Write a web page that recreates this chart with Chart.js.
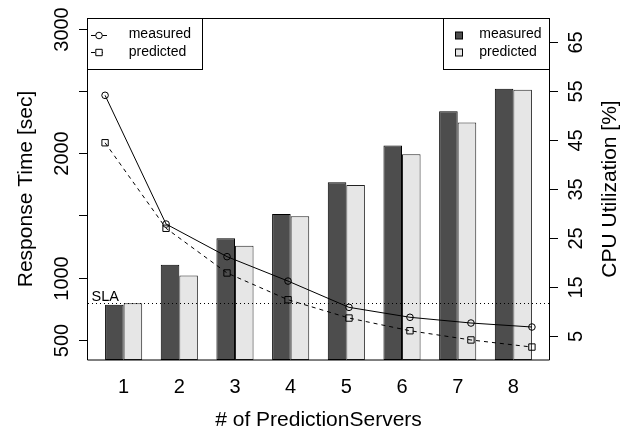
<!DOCTYPE html>
<html>
<head>
<meta charset="utf-8">
<script src="https://cdn.jsdelivr.net/npm/chart.js@4.4.1/dist/chart.umd.min.js"></script>
<style>
  html, body { margin: 0; padding: 0; background: #fff; }
  canvas { display: block; }
</style>
</head>
<body>
<canvas id="chart" width="626" height="432"></canvas>
<script>
// values
const servers = [1, 2, 3, 4, 5, 6, 7, 8];
const timeMeasured = [2465, 1431, 1169, 973, 762, 682, 636, 604];
const timePredicted = [2084, 1397, 1038, 823, 676, 574, 500, 443];
const cpuMeasured = [11.3, 19.5, 24.9, 29.9, 36.4, 43.9, 50.9, 55.5];
const cpuPredicted = [11.6, 17.3, 23.4, 29.4, 35.8, 42.1, 48.6, 55.3];
const timeTicks = [500, 1000, 1500, 2000, 2500, 3000];
const timeTickLabels = ['500', '1000', '', '2000', '', '3000'];
const cpuTicks = [5, 15, 25, 35, 45, 55, 65];
const slaTime = 800;

const FONT = '"Liberation Sans", Arial, sans-serif';
const DARK = '#4d4d4d';
const LIGHT = '#e6e6e6';

const toXY = (ys) => servers.map((x, i) => ({ x: x, y: ys[i] }));
const setTicks = (vals) => (scale) => { scale.ticks = vals.map(v => ({ value: v })); };

function rotText(ctx, text, x, y) {
    ctx.save();
    ctx.translate(x, y);
    ctx.rotate(-Math.PI / 2);
    ctx.fillText(text, 0, 0);
    ctx.restore();
}

// SLA line, drawn over the bars
const slaLine = {
    id: 'slaLine',
    afterDatasetsDraw(chart) {
        const { ctx, chartArea: a, scales } = chart;
        const y = Math.round(scales.yTime.getPixelForValue(slaTime)) + 0.5;
        ctx.save();
        ctx.strokeStyle = '#000';
        ctx.lineWidth = 1;
        ctx.setLineDash([1, 3]);
        ctx.beginPath();
        ctx.moveTo(a.left, y);
        ctx.lineTo(a.right, y);
        ctx.stroke();
        ctx.setLineDash([]);
        ctx.fillStyle = '#000';
        ctx.font = '14.5px ' + FONT;
        ctx.textAlign = 'left';
        ctx.textBaseline = 'alphabetic';
        ctx.fillText('SLA', a.left + 3.5, y - 3);
        ctx.restore();
    }
};

// R style box, axes, titles and the two legends
const rAxes = {
    id: 'rAxes',
    afterDraw(chart) {
        const { ctx, chartArea: a, scales } = chart;
        const L = a.left - 0.5, R = a.right + 0.5, T = a.top + 0.5, B = a.bottom;
        const midY = (a.top + a.bottom) / 2;
        ctx.save();
        ctx.strokeStyle = '#000';
        ctx.fillStyle = '#000';
        ctx.lineWidth = 1;

        ctx.beginPath();
        ctx.moveTo(L, T); ctx.lineTo(R, T); ctx.lineTo(R, B); ctx.lineTo(L, B); ctx.closePath();
        ctx.stroke();

        // left axis
        ctx.font = '20px ' + FONT;
        ctx.textAlign = 'center';
        ctx.textBaseline = 'alphabetic';
        scales.yTime.ticks.forEach((t, i) => {
            const y = Math.round(scales.yTime.getPixelForValue(t.value)) + 0.5;
            ctx.beginPath(); ctx.moveTo(L - 8.5, y); ctx.lineTo(L, y); ctx.stroke();
            if (timeTickLabels[i]) rotText(ctx, timeTickLabels[i], 67.5, y);
        });
        // right axis
        scales.yCpu.ticks.forEach(t => {
            const y = Math.round(scales.yCpu.getPixelForValue(t.value)) + 0.5;
            ctx.beginPath(); ctx.moveTo(R, y); ctx.lineTo(R + 8.5, y); ctx.stroke();
            rotText(ctx, String(t.value), 581.5, y);
        });
        // x labels
        scales.xBar.ticks.forEach(t => {
            ctx.fillText(String(t.value), scales.xBar.getPixelForValue(t.value), 392.5);
        });

        // titles
        ctx.font = '21px ' + FONT;
        ctx.fillText('# of PredictionServers', (a.left + a.right) / 2, 426);
        rotText(ctx, 'Response Time [sec]', 31.5, midY);
        rotText(ctx, 'CPU Utilization [%]', 616, midY);

        // legends
        const rows = [34.5, 52.4];
        ctx.font = '14px ' + FONT;
        ctx.textAlign = 'left';
        ctx.fillStyle = '#fff';
        ctx.fillRect(L, T, 202.5 - L, 69.5 - T);
        ctx.fillRect(443.5, T, R - 443.5, 69.5 - T);
        ctx.strokeRect(L, T, 202.5 - L, 69.5 - T);
        ctx.strokeRect(443.5, T, R - 443.5, 69.5 - T);

        ctx.fillStyle = '#000';
        ['measured', 'predicted'].forEach((name, i) => {
            const y = Math.round(rows[i]) + 0.5;
            ctx.setLineDash(i === 0 ? [] : [4, 4]);
            ctx.beginPath(); ctx.moveTo(91, y); ctx.lineTo(107, y); ctx.stroke();
            ctx.setLineDash([]);
            ctx.fillStyle = '#fff';
            ctx.beginPath();
            if (i === 0) ctx.arc(99, y, 3.3, 0, Math.PI * 2);
            else ctx.rect(95.8, y - 3.2, 6.4, 6.4);
            ctx.fill(); ctx.stroke();
            ctx.fillStyle = '#000';
            ctx.fillText(name, 128.7, rows[i] + 3.8);

            ctx.fillStyle = i === 0 ? DARK : LIGHT;
            ctx.fillRect(455.5, y - 3.5, 7, 7);
            ctx.strokeRect(455.5, y - 3.5, 7, 7);
            ctx.fillStyle = '#000';
            ctx.fillText(name, 479.3, rows[i] + 3.8);
        });
        ctx.restore();
    }
};

new Chart(document.getElementById('chart'), {
    type: 'bar',
    data: {
        datasets: [
            {
                type: 'line', label: 'measured', data: toXY(timeMeasured),
                xAxisID: 'xLine', yAxisID: 'yTime', order: 0,
                borderColor: '#000', borderWidth: 1, tension: 0,
                pointStyle: 'circle', pointRadius: 3.3, pointBorderWidth: 1,
                pointBorderColor: '#000', pointBackgroundColor: 'rgba(0,0,0,0)'
            },
            {
                type: 'line', label: 'predicted', data: toXY(timePredicted),
                xAxisID: 'xLine', yAxisID: 'yTime', order: 0,
                borderColor: '#000', borderWidth: 1, borderDash: [4, 4], tension: 0,
                pointStyle: 'rect', pointRadius: 4.5, pointBorderWidth: 1,
                pointBorderColor: '#000', pointBackgroundColor: 'rgba(0,0,0,0)'
            },
            {
                type: 'bar', label: 'measured', data: toXY(cpuMeasured),
                xAxisID: 'xBar', yAxisID: 'yCpu', order: 1,
                backgroundColor: DARK, borderColor: '#000', borderWidth: 1, borderSkipped: false
            },
            {
                type: 'bar', label: 'predicted', data: toXY(cpuPredicted),
                xAxisID: 'xBar', yAxisID: 'yCpu', order: 1,
                backgroundColor: LIGHT, borderColor: '#222', borderWidth: 1, borderSkipped: false
            }
        ]
    },
    options: {
        responsive: false,
        animation: false,
        events: [],
        layout: { padding: { left: 88, top: 18, right: 77, bottom: 72 } },
        // on a linear index scale the group comes out at half the percentage, so 4/3 gives two bars filling 2/3 of the step
        datasets: { bar: { categoryPercentage: 4 / 3, barPercentage: 1 } },
        plugins: { legend: { display: false }, tooltip: { enabled: false } },
        scales: {
            xBar: { type: 'linear', axis: 'x', position: 'bottom', display: false, offset: false, grid: { offset: false },
                    min: 0.36, max: 8.64, afterBuildTicks: setTicks(servers) },
            xLine: { type: 'linear', axis: 'x', position: 'bottom', display: false, offset: false, grid: { offset: false },
                     min: 0.72, max: 8.28 },
            yTime: { type: 'linear', axis: 'y', position: 'left', display: false, min: 339, max: 3086, afterBuildTicks: setTicks(timeTicks) },
            yCpu: { type: 'linear', axis: 'y', position: 'right', display: false, min: 0, max: 70, afterBuildTicks: setTicks(cpuTicks) }
        }
    },
    plugins: [slaLine, rAxes]
});
</script>
</body>
</html>
